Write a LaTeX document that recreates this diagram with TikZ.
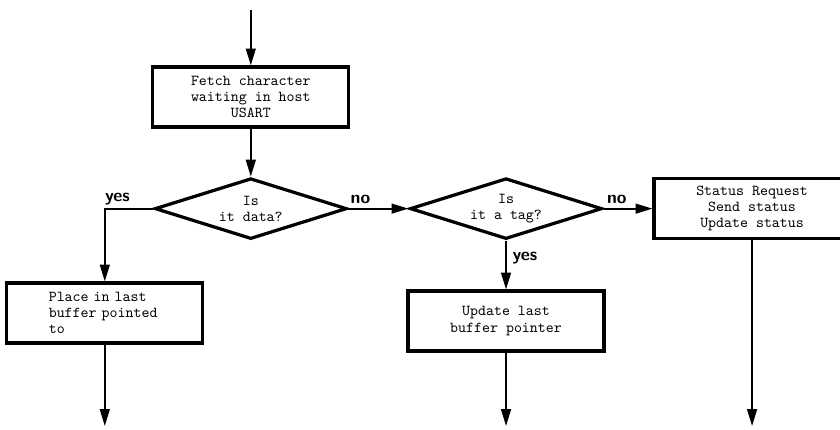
\documentclass[tikz,border=0pt]{standalone}
\usepackage{tikz}
\usetikzlibrary{arrows.meta,positioning,shapes.geometric}

\begin{document}
\begin{tikzpicture}[every node/.style={font=\ttfamily\fontsize{10.8}{11.6}\selectfont},
    box/.style={rectangle, draw, line width=2.3pt, minimum width=4.9cm,
                minimum height=1.5cm, align=center, inner sep=2pt},
    decide/.style={diamond, draw, line width=2.3pt, aspect=3, inner sep=0pt,
                minimum width=4.8cm, minimum height=1.52cm, align=center},
    arr/.style={-{Triangle[length=12pt,width=7pt]}, line width=1.3pt},
    hand/.style={font=\sffamily\bfseries\fontsize{12.5}{12.5}\selectfont, inner sep=1pt}]

    \useasboundingbox (0,0) rectangle (21,10.725);

    %% Entry and fetch
    \coordinate (start) at (6.27,10.475);
    \node[box] (fetch) at (6.27,8.3)
      {Fetch character\\waiting in host\\USART};

    %% Decisions
    \node[decide, below=1.2cm of fetch] (isdata) {Is\\it data?};
    \node[decide, right=1.5cm of isdata] (istag) {Is\\it a tag?};

    %% Actions
    \node[box, right=1.22cm of istag] (status)
      {Status Request\\Send status\\Update status};
    \node[box, text width=2.8cm, align=left] (place) at (2.62,2.9)
      {Place in last\\buffer pointed\\to};
    \node[box, below=1.22cm of istag] (update)
      {Update last\\buffer pointer};

    %% Exits
    \coordinate (outA) at (place.south |- 0,0.075);
    \coordinate (outB) at (update.south |- 0,0.075);
    \coordinate (outC) at (status.south |- 0,0.075);

    %% Arrows
    \draw[arr] (start) -- (fetch.north);
    \draw[arr] (fetch.south) -- (isdata.north);
    \draw[arr] (isdata.west) -| node[hand, pos=0.37, above=1pt] {yes} (place.north);
    \draw[arr] (isdata.east) -- node[hand, pos=0.2, above=2pt] {no} (istag.west);
    \draw[arr] (istag.east) -- node[hand, pos=0.27, above=2pt] {no} (status.west);
    \draw[arr] (istag.south) -- node[hand, pos=0.35, right=3pt] {yes} (update.north);
    \draw[arr] (place.south) -- (outA);
    \draw[arr] (update.south) -- (outB);
    \draw[arr] (status.south) -- (outC);
  \end{tikzpicture}
\end{document}
